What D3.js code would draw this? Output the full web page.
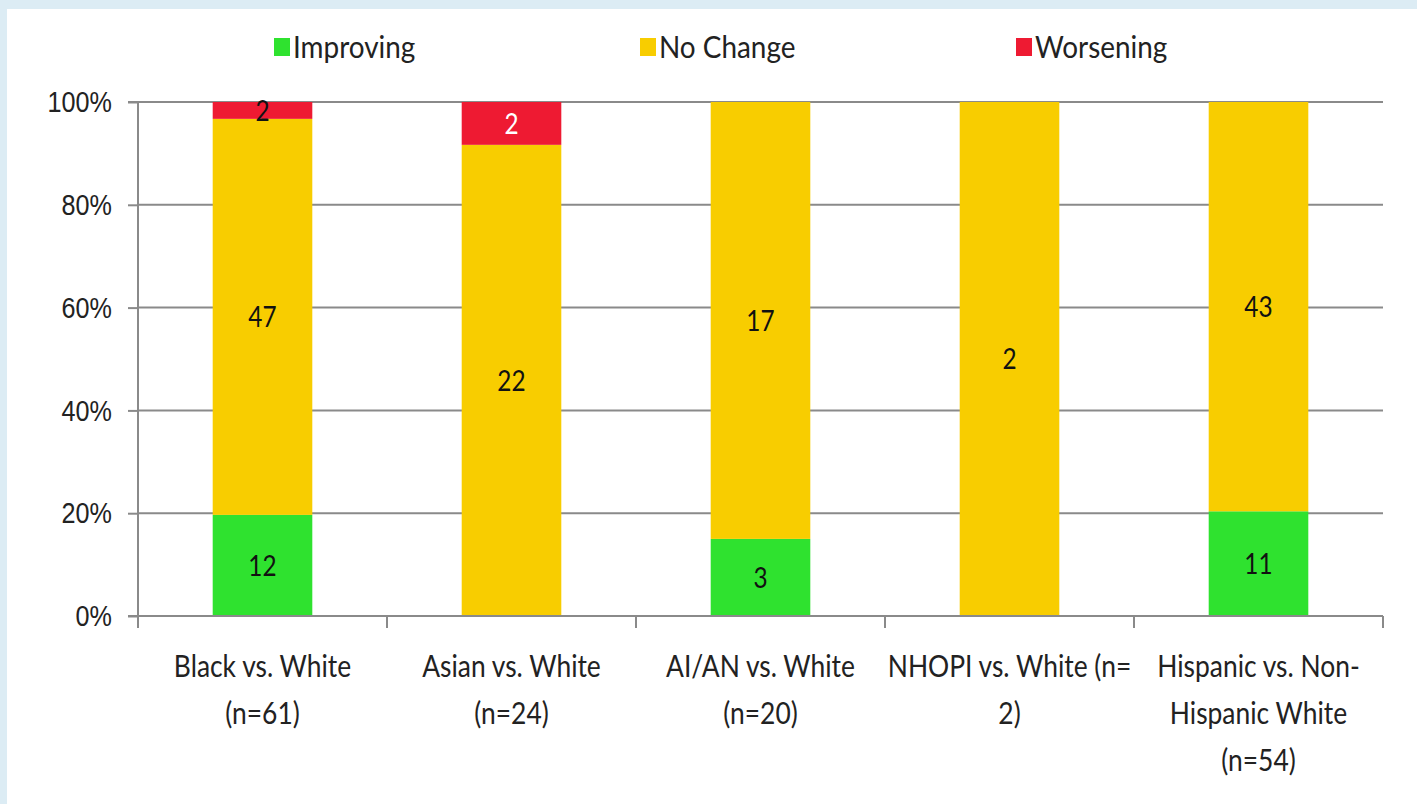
<!DOCTYPE html>
<html>
<head>
<meta charset="utf-8">
<script src="https://cdn.jsdelivr.net/npm/d3@7"></script>
<style>
  html, body { margin: 0; padding: 0; background: #dcecf4; }
  svg { display: block; }
  text { font-family: Lato, "Open Sans", sans-serif; fill: #222; }
</style>
</head>
<body>
<script>
// Disparity change counts per comparison group
const categories = [
  ["Black vs. White", "(n=61)"],
  ["Asian vs. White", "(n=24)"],
  ["AI/AN vs. White", "(n=20)"],
  ["NHOPI vs. White (n=", "2)"],
  ["Hispanic vs. Non-", "Hispanic White", "(n=54)"]
];
const seriesNames = ["Improving", "No Change", "Worsening"];
const improving = [12, 0, 3, 0, 11];
const noChange  = [47, 22, 17, 2, 43];
const worsening = [2, 2, 0, 0, 0];
const yTicks = [0, 0.2, 0.4, 0.6, 0.8, 1.0];
const colors = ["#2fe22f", "#f8cd00", "#ee1a32"];

const W = 1417, H = 804;
const margin = { left: 138, right: 34, top: 102, bottom: 188 };
const SX = 0.84;          // horizontal squeeze for a condensed look
const SX_CAT = 0.88;
const SX_LEG = 0.93;
const FS = 30;

const svg = d3.select("body").append("svg").attr("width", W).attr("height", H);

// white slide panel over the tinted backdrop
svg.append("rect").attr("x", 7).attr("y", 9).attr("width", W - 7).attr("height", H - 9).attr("fill", "#ffffff");

const x = d3.scaleBand().domain(d3.range(categories.length))
  .range([margin.left, W - margin.right]).paddingInner(0.6).paddingOuter(0.3);
const xEdge = d3.scaleLinear().domain([0, categories.length]).range([margin.left, W - margin.right]);
const y = d3.scaleLinear().domain([0, 1]).range([H - margin.bottom, margin.top]);

// gridlines
svg.append("g").selectAll("line").data(yTicks.filter(d => d > 0)).join("line")
  .attr("x1", margin.left).attr("x2", W - margin.right)
  .attr("y1", d => y(d)).attr("y2", d => y(d))
  .attr("stroke", "#8a8a8a").attr("stroke-width", 2);

// stacked segments
const rows = categories.map((c, i) => ({ i, vals: [improving[i], noChange[i], worsening[i]] }));
const stacked = d3.stack().keys([0, 1, 2]).value((d, k) => d.vals[k] / d3.sum(d.vals))(rows);

stacked.forEach((layer, k) => {
  svg.append("g").selectAll("rect").data(layer).join("rect")
    .attr("x", d => x(d.data.i)).attr("width", x.bandwidth())
    .attr("y", d => y(d[1])).attr("height", d => y(d[0]) - y(d[1]))
    .attr("fill", colors[k]);
});

// value labels
stacked.forEach((layer, k) => {
  svg.append("g").selectAll("text").data(layer.filter(d => d.data.vals[k] > 0)).join("text")
    .attr("transform", d => `translate(${x(d.data.i) + x.bandwidth() / 2},${(y(d[0]) + y(d[1])) / 2}) scale(${SX},1)`)
    .attr("dy", "0.36em")
    .attr("text-anchor", "middle")
    .attr("font-size", 29)
    .style("fill", d => (k === 2 && d.data.i === 1) ? "#ffffff" : "#111")
    .text(d => d.data.vals[k]);
});

// y axis
const yAxis = d3.axisLeft(y).tickValues(yTicks).tickFormat(d3.format(".0%")).tickSize(10).tickPadding(0);
const ya = svg.append("g").attr("transform", `translate(${margin.left},0)`).call(yAxis);
ya.select(".domain").attr("stroke", "#8a8a8a").attr("stroke-width", 2).attr("d", `M-10,${y(1)}H0V${y(0)}H-10`);
ya.selectAll(".tick line").attr("stroke", "#8a8a8a").attr("stroke-width", 2);
ya.selectAll(".tick text").attr("x", null).attr("font-size", FS)
  .attr("transform", `translate(-26,0) scale(${SX},1)`)
  .style("font-family", "inherit").style("fill", "#222");

// x axis baseline and band boundary ticks
const xa = svg.append("g");
xa.append("line").attr("x1", margin.left).attr("x2", W - margin.right)
  .attr("y1", y(0)).attr("y2", y(0)).attr("stroke", "#8a8a8a").attr("stroke-width", 2);
xa.selectAll("line.edge").data(d3.range(categories.length + 1)).join("line").attr("class", "edge")
  .attr("x1", d => xEdge(d)).attr("x2", d => xEdge(d))
  .attr("y1", y(0)).attr("y2", y(0) + 12).attr("stroke", "#8a8a8a").attr("stroke-width", 2);

// category labels
const cl = svg.append("g").selectAll("text").data(categories).join("text")
  .attr("text-anchor", "middle").attr("font-size", FS)
  .attr("transform", (d, i) => `translate(${x(i) + x.bandwidth() / 2},${y(0) + 61}) scale(${SX_CAT},1)`);
cl.selectAll("tspan").data(d => d).join("tspan")
  .attr("x", 0).attr("y", (d, j) => j * 47).text(d => d);

// legend
const legendX = [274, 640, 1016];
const lg = svg.append("g").selectAll("g").data(seriesNames).join("g")
  .attr("transform", (d, i) => `translate(${legendX[i]},38)`);
lg.append("rect").attr("width", 16).attr("height", 18).attr("fill", (d, i) => colors[i]);
lg.append("text").attr("transform", `translate(19,20) scale(${SX_LEG},1)`).attr("font-size", FS).text(d => d);
</script>
</body>
</html>
